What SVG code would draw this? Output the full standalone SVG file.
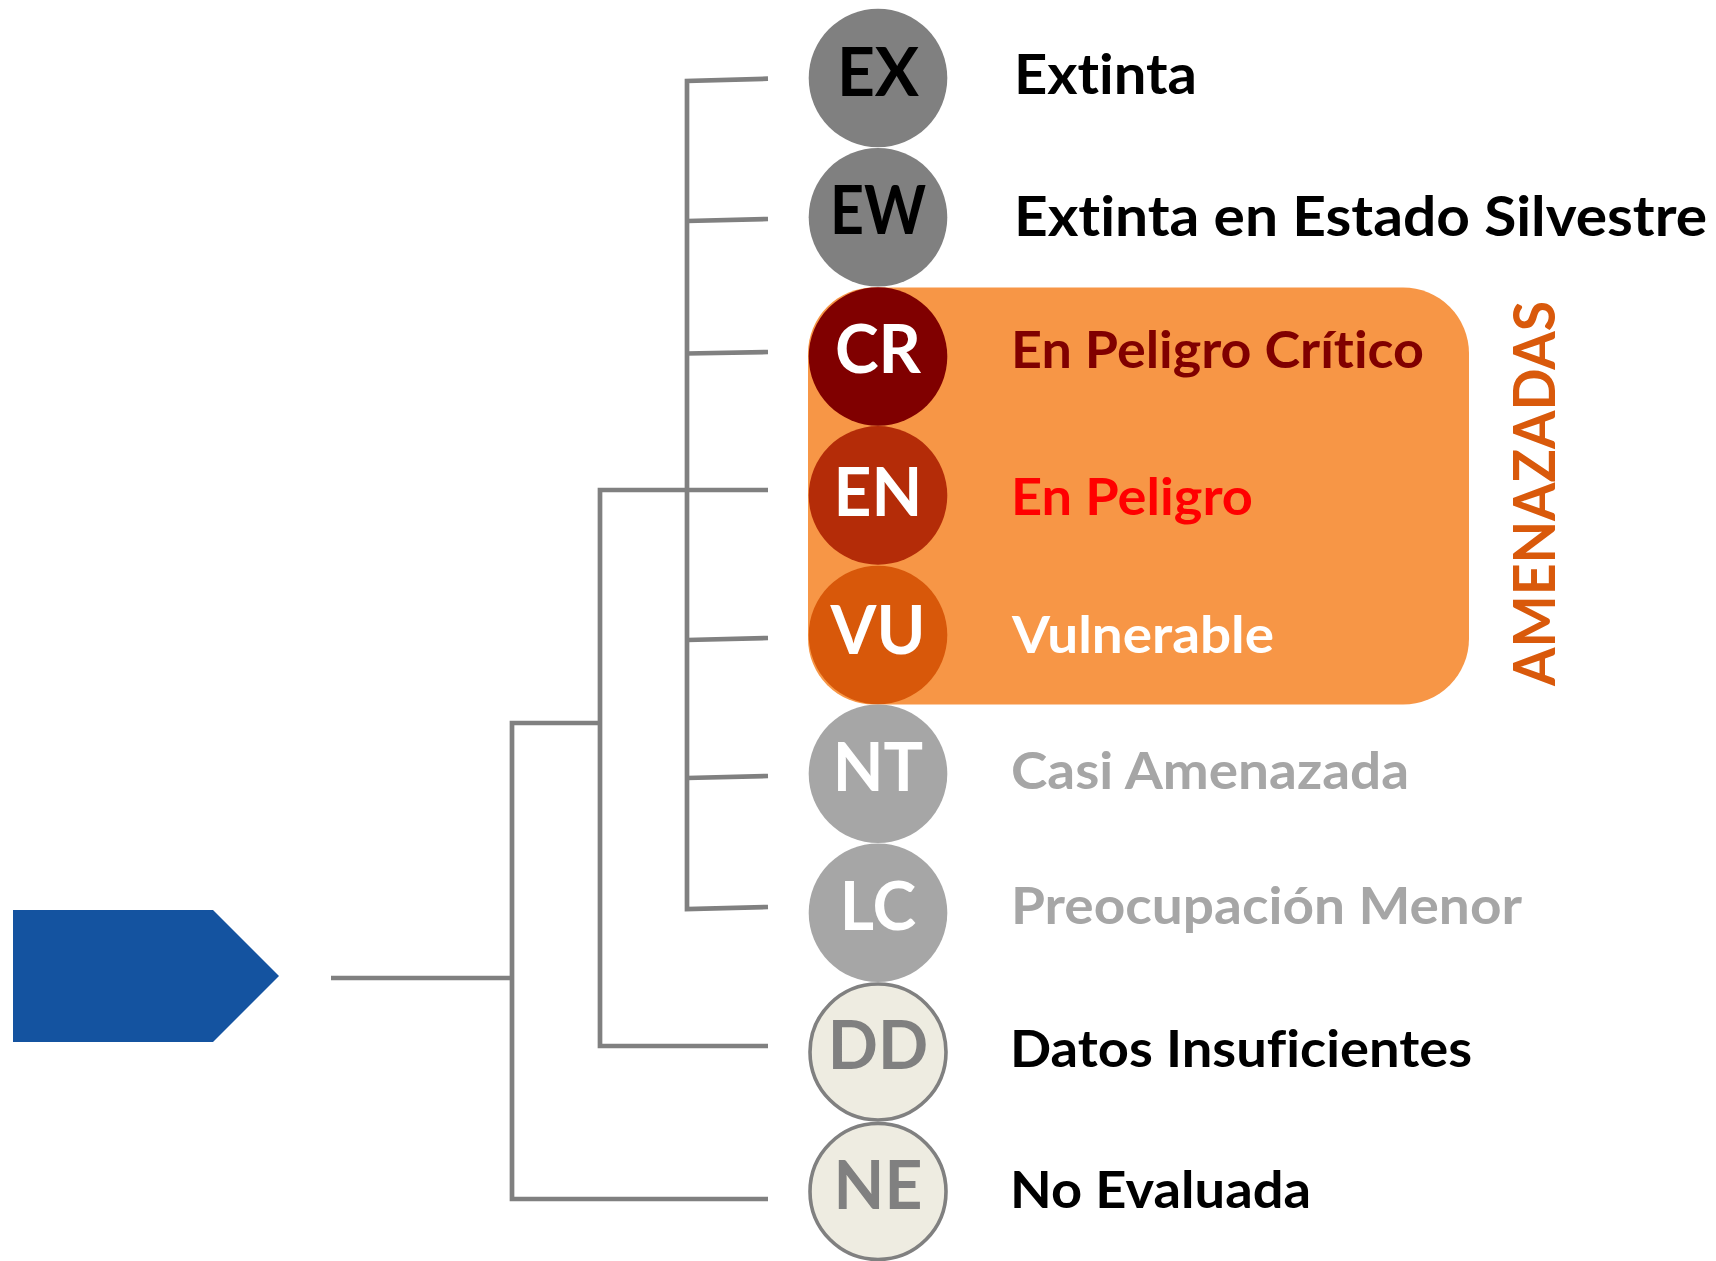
<svg xmlns="http://www.w3.org/2000/svg" width="1716" height="1261" viewBox="0 0 1716 1261">
<style>
text{font-variant-ligatures:none;font-feature-settings:"liga" 0,"clig" 0}
.conn{fill:none;stroke:#808080;stroke-width:4.7;stroke-linejoin:miter;stroke-linecap:butt}
.ab{font-family:Lato,"Liberation Sans",sans-serif;font-weight:700;font-size:66px;text-anchor:middle}
.lb{font-family:Lato,"Liberation Sans",sans-serif;font-weight:700;font-size:52px}
.lbt{font-size:56px}
.gray{fill:#808080}
.light{fill:#A6A6A6}
.beige{fill:#EEECE1;stroke:#808080;stroke-width:3.6}
</style>
<rect width="1716" height="1261" fill="#FFFFFF"/>
<g id="root-arrow">
<polygon points="13,910 213,910 279,976 213,1042 13,1042" fill="#1453A0"/>
</g>
<g id="connectors">
<path class="conn" d="M331,978 L512,978"/>
<path class="conn" d="M600,723 L512,723 L512,1199 L768,1199"/>
<path class="conn" d="M768,490 L600,490 L600,1046 L768,1046"/>
<path class="conn" d="M768,78.7 L687,81 L687,909 L768,907"/>
<path class="conn" d="M687,221 L768,219"/>
<path class="conn" d="M687,353.5 L768,352"/>
<path class="conn" d="M687,640 L768,638"/>
<path class="conn" d="M687,778 L768,776"/>
</g>
<g id="amenazadas-group">
<rect x="808" y="287.5" width="661" height="417" rx="66" ry="66" fill="#F79646"/>
<text transform="translate(1555,493.5) rotate(-90)" x="0" y="0" text-anchor="middle" textLength="385" lengthAdjust="spacingAndGlyphs" style="font-family:Lato,'Liberation Sans',sans-serif;font-weight:700;font-size:58px;fill:#D9590B">AMENAZADAS</text>
</g>
<g id="node-EX">
<circle cx="878" cy="78" r="69.3" fill="#808080"/>
<text class="ab" x="878" y="95.5" fill="#000000">EX</text>
<text class="lb lbt" x="1014" y="94" textLength="183" lengthAdjust="spacingAndGlyphs" fill="#000000">Extinta</text>
</g>
<g id="node-EW">
<circle cx="878" cy="217.2" r="69.3" fill="#808080"/>
<text class="ab" x="878" y="234" textLength="96" lengthAdjust="spacingAndGlyphs" fill="#000000">EW</text>
<text class="lb lbt" x="1014" y="235.7" textLength="693" lengthAdjust="spacingAndGlyphs" fill="#000000">Extinta en Estado Silvestre</text>
</g>
<g id="node-CR">
<circle cx="878" cy="356.5" r="69.3" fill="#800000"/>
<text class="ab" x="878" y="373.3" fill="#FFFFFF">CR</text>
<text class="lb" x="1011" y="368.3" textLength="413" lengthAdjust="spacingAndGlyphs" fill="#800000">En Peligro Crítico</text>
</g>
<g id="node-EN">
<circle cx="878" cy="495.4" r="69.3" fill="#B42C08"/>
<text class="ab" x="878" y="515.5" fill="#FFFFFF">EN</text>
<text class="lb" x="1011" y="515" textLength="242" lengthAdjust="spacingAndGlyphs" fill="#FF0000">En Peligro</text>
</g>
<g id="node-VU">
<circle cx="878" cy="635" r="69.3" fill="#D8580A"/>
<text class="ab" x="878" y="653.5" fill="#FFFFFF">VU</text>
<text class="lb" x="1012" y="653" textLength="262" lengthAdjust="spacingAndGlyphs" fill="#FFFFFF">Vulnerable</text>
</g>
<g id="node-NT">
<circle cx="878" cy="773.8" r="69.3" fill="#A6A6A6"/>
<text class="ab" x="878" y="791" fill="#FFFFFF">NT</text>
<text class="lb light" x="1011" y="789" textLength="398" lengthAdjust="spacingAndGlyphs">Casi Amenazada</text>
</g>
<g id="node-LC">
<circle cx="878" cy="912.8" r="69.3" fill="#A6A6A6"/>
<text class="ab" x="878" y="930" fill="#FFFFFF">LC</text>
<text class="lb light" x="1011" y="924" textLength="511" lengthAdjust="spacingAndGlyphs">Preocupación Menor</text>
</g>
<g id="node-DD">
<circle class="beige" cx="878" cy="1052" r="68"/>
<text class="ab gray" x="878" y="1069">DD</text>
<text class="lb" x="1010" y="1067" textLength="462" lengthAdjust="spacingAndGlyphs" fill="#000000">Datos Insuficientes</text>
</g>
<g id="node-NE">
<circle class="beige" cx="878" cy="1191.5" r="68"/>
<text class="ab gray" x="878" y="1208.5">NE</text>
<text class="lb" x="1010" y="1208" textLength="301" lengthAdjust="spacingAndGlyphs" fill="#000000">No Evaluada</text>
</g>
</svg>
